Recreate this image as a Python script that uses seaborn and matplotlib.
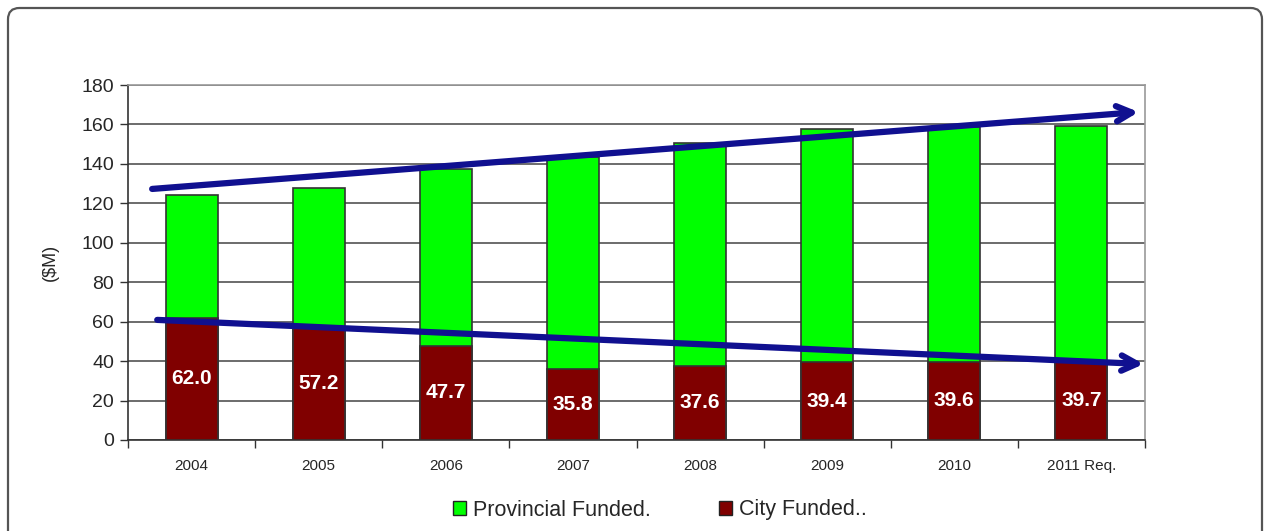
import numpy as np
import pandas as pd
import seaborn as sns
import matplotlib.pyplot as plt
from matplotlib.patches import FancyBboxPatch, Patch
from matplotlib.ticker import FixedLocator

years = ["2004", "2005", "2006", "2007", "2008", "2009", "2010", "2011 Req."]
city = [62.0, 57.2, 47.7, 35.8, 37.6, 39.4, 39.6, 39.7]
provincial = [62.2, 70.6, 89.6, 107.7, 113.0, 118.3, 119.3, 119.7]

# trend arrows (start, end) in category / $M units
upper_trend = [(-0.31, 127.3), (7.45, 166.3)]
lower_trend = [(-0.27, 60.9), (7.49, 38.5)]

df = pd.DataFrame({"year": years, "city": city, "provincial": provincial})
df["total"] = df["city"] + df["provincial"]

sns.set_style("white")
plt.rcParams["font.family"] = ["Liberation Sans", "DejaVu Sans"]

fig = plt.figure(figsize=(12.65, 5.31), dpi=100)

# rounded outer frame (runs off the bottom edge)
frame = FancyBboxPatch((8 / 1265, -0.1), 1254 / 1265, 1.1 - 8 / 531,
                       boxstyle="round,pad=0,rounding_size=0.009",
                       transform=fig.transFigure, facecolor="none",
                       edgecolor="#555555", linewidth=1.6,
                       mutation_aspect=1265 / 531, zorder=10)
fig.patches.append(frame)

ax = fig.add_axes([128 / 1265, 1 - 440 / 531, 1017 / 1265, 355 / 531])

sns.barplot(data=df, x="year", y="total", color="#00FF00", width=0.41,
            edgecolor="#333333", linewidth=1.2, saturation=1, ax=ax, zorder=3)
sns.barplot(data=df, x="year", y="city", color="#800000", width=0.41,
            edgecolor="#333333", linewidth=1.2, saturation=1, ax=ax, zorder=3)

for i, v in enumerate(df["city"]):
    ax.text(i, v / 2, f"{v:.1f}", ha="center", va="center", color="white",
            fontsize=15, fontweight="bold", zorder=5)

for (x0, y0), (x1, y1) in [upper_trend, lower_trend]:
    ax.annotate("", xy=(x1, y1), xytext=(x0, y0),
                arrowprops=dict(arrowstyle="->,head_length=1.1,head_width=0.55",
                                color="#101090", lw=4.5, shrinkA=0, shrinkB=0),
                zorder=6, annotation_clip=False)

ax.set_xlim(-0.5, 7.5)
ax.set_ylim(0, 180)
ax.set_yticks(np.arange(0, 181, 20))
ax.yaxis.grid(True, color="#444444", linewidth=1.1, zorder=0)
ax.set_axisbelow(True)

ax.xaxis.set_minor_locator(FixedLocator(np.arange(-0.5, 8, 1)))
ax.tick_params(axis="x", which="major", length=0, labelsize=11, pad=14)
ax.tick_params(axis="x", which="minor", length=6, width=1, color="#333333",
               direction="out", bottom=True)
ax.tick_params(axis="y", length=6, width=1, color="#333333", direction="out",
               labelsize=14, pad=4, left=True)

for side in ["left", "bottom"]:
    ax.spines[side].set_color("#333333")
    ax.spines[side].set_linewidth(1.2)
for side in ["top", "right"]:
    ax.spines[side].set_color("#999999")
    ax.spines[side].set_linewidth(1.2)

ax.set_xlabel("")
ax.set_ylabel("($M)", fontsize=13, labelpad=16)

handles = [Patch(facecolor="#00FF00", edgecolor="#222222", label="Provincial Funded."),
           Patch(facecolor="#800000", edgecolor="#222222", label="City Funded..")]
fig.legend(handles=handles, loc="center", bbox_to_anchor=(660 / 1265, 1 - 510 / 531),
           ncol=2, frameon=False, fontsize=15.5, handlelength=0.6, handleheight=0.6,
           handletextpad=0.3, columnspacing=3.2)

fig.savefig("out.png", dpi=100)
